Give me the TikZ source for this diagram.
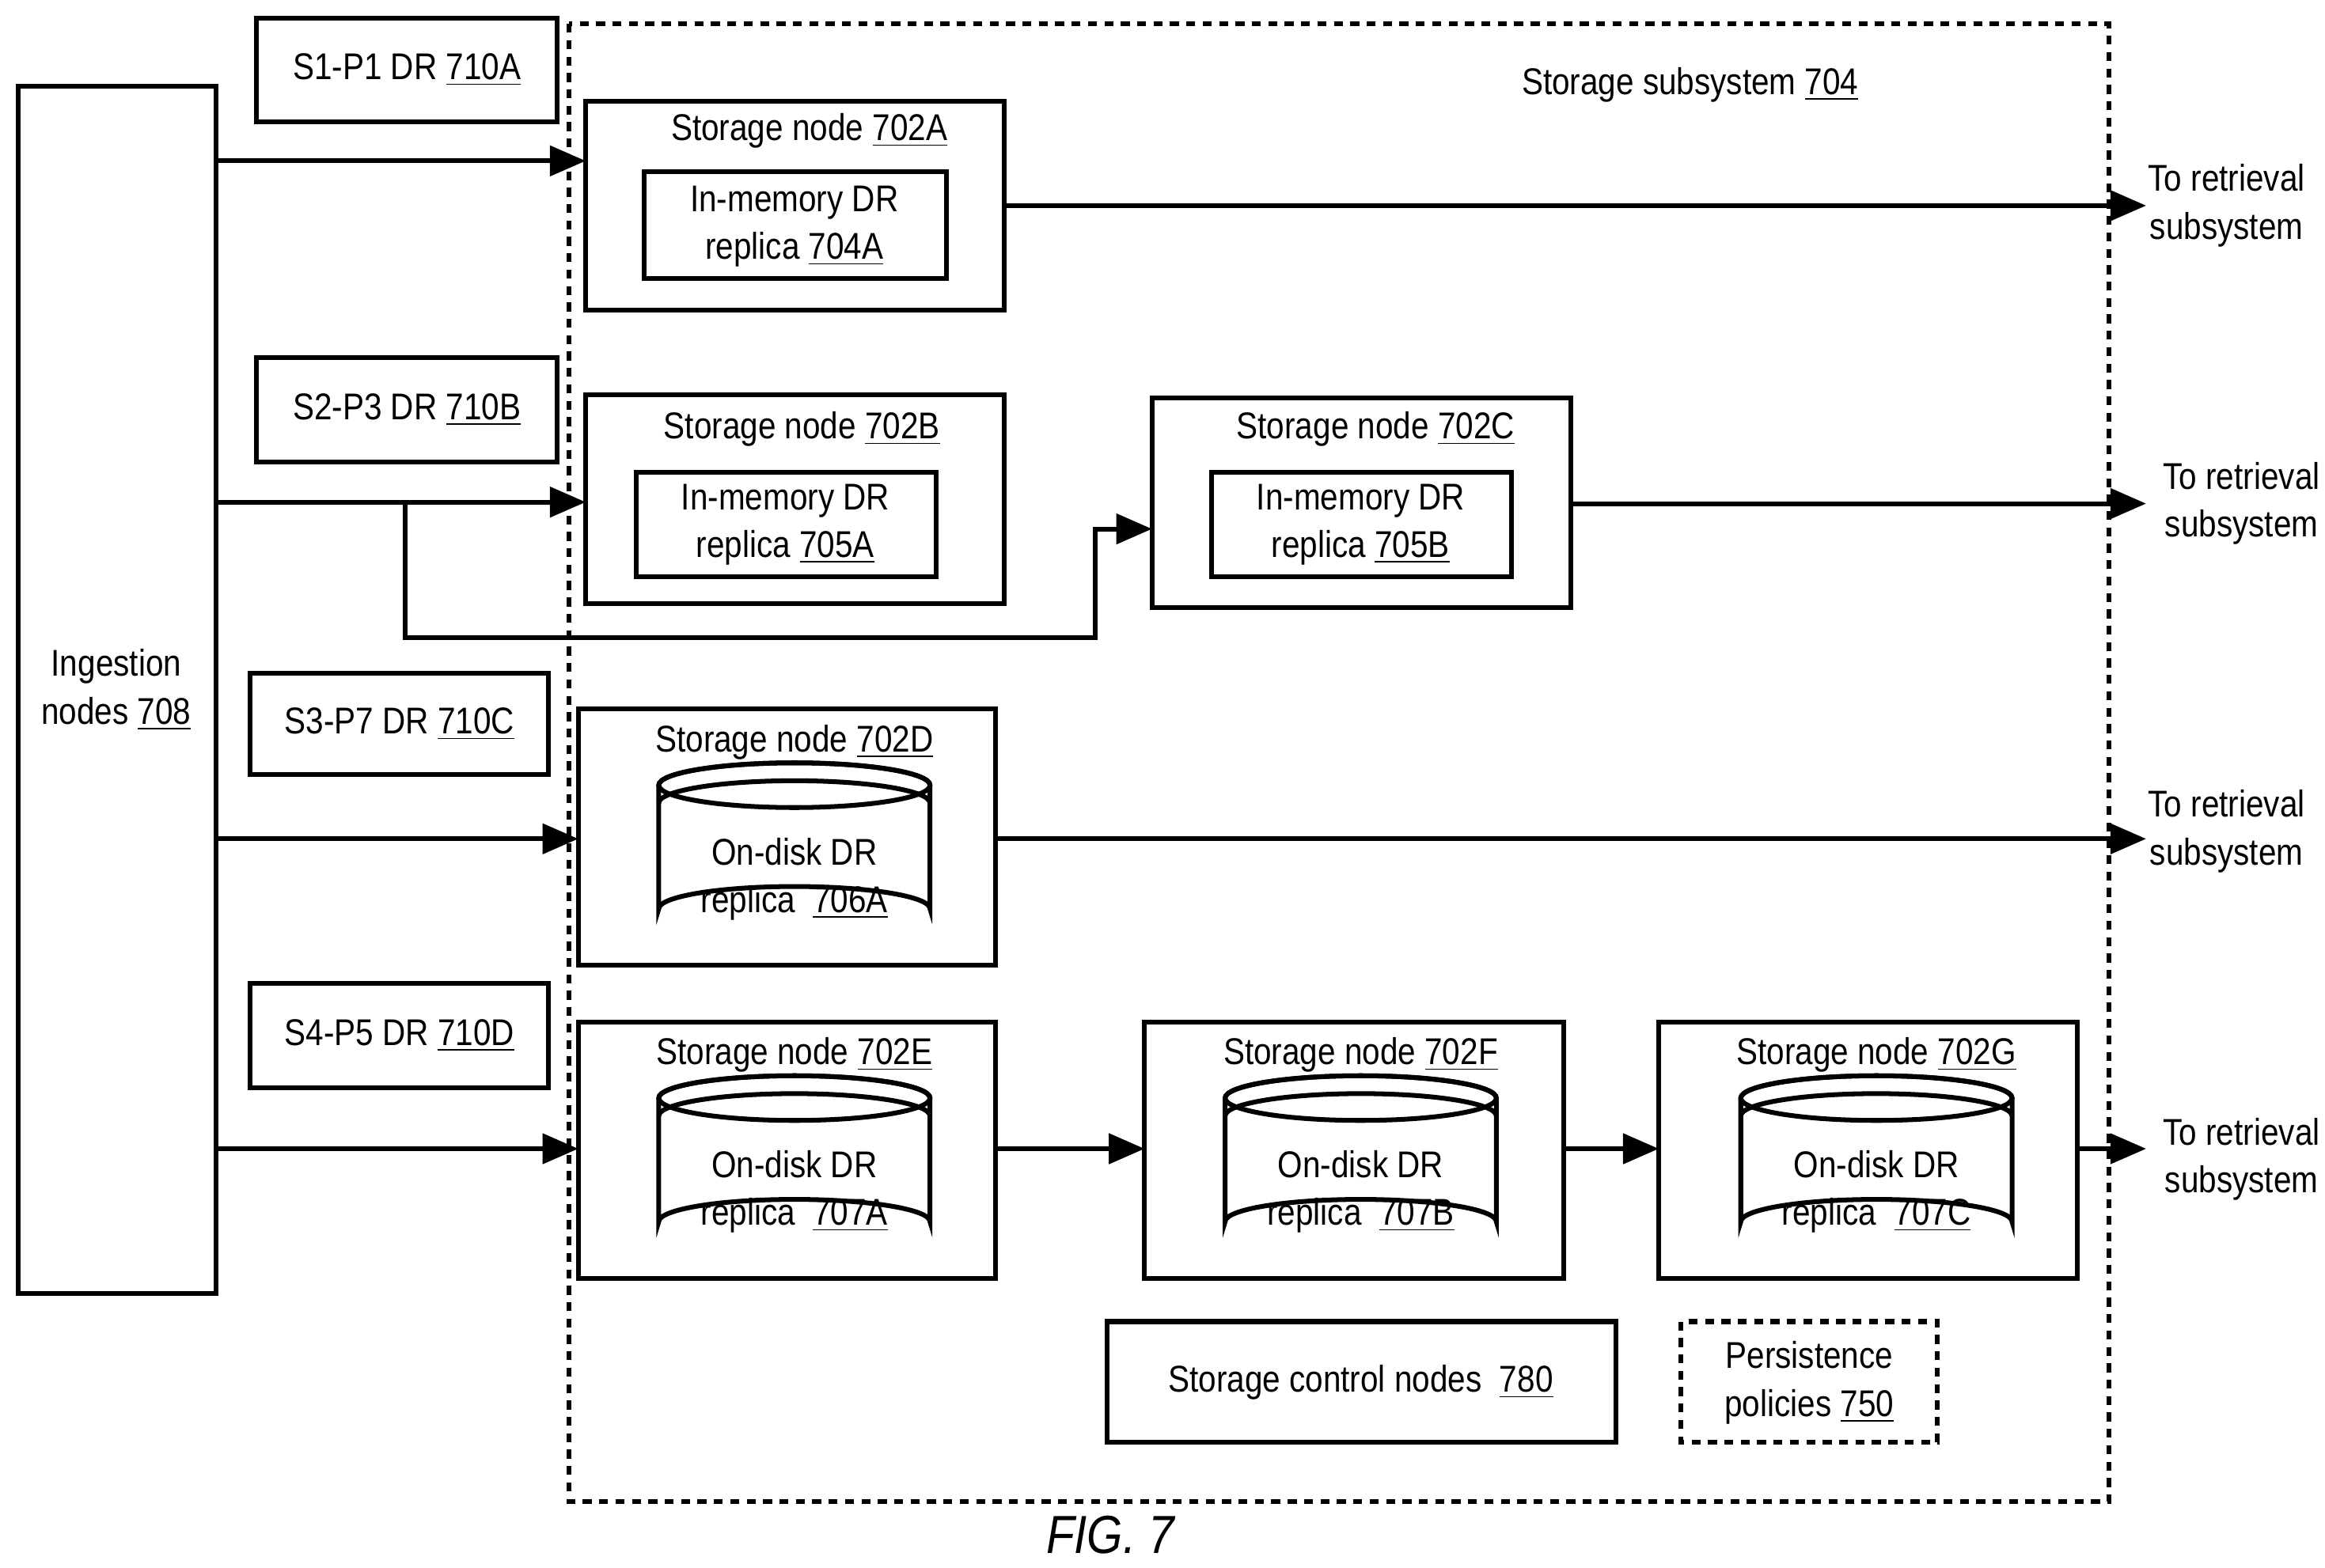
\documentclass[tikz,border=0pt]{standalone}
\usepackage{fontspec}
\setmainfont{Liberation Sans}[FakeStretch=0.86]
\usetikzlibrary{positioning,arrows.meta}
\newcommand\ul[1]{\underline{#1}}
% on-disk replica drum: centre x, top y, bottom y, name, text
\newcommand\drum[5]{%
  \draw[thick box] (#1-91,#2+15) -- (#1-91,#3-15) arc[start angle=180,end angle=360,x radius=91,y radius=15]
    -- (#1+91,#2+15) arc[start angle=0,end angle=-180,x radius=91,y radius=15] -- cycle;
  \draw[thick box] (#1,#2+15) ellipse[x radius=91,y radius=15];
  \draw[thick box] (#1-91,#2+27) arc[start angle=180,end angle=360,x radius=91,y radius=15];
  \node[lbl] (#4) at (#1,#3-35) {#5};}
\tikzset{
  thick box/.style={line width=1.6pt},
  box/.style={draw,line width=1.6pt},
  dashbox/.style={draw,line width=1.6pt,dash pattern=on 3pt off 2.5pt},
  lbl/.style={align=center,font=\fontsize{12.5}{16}\selectfont},
  feed/.style={line width=1.6pt,-{Triangle[length=12pt,width=10pt]}},
}
\begin{document}
\begin{tikzpicture}[x=0.5pt,y=-0.5pt]
\useasboundingbox (0,0) rectangle (1560,1052);

% outer boxes
\draw[box] (12,58) rectangle (145,868);
\node[lbl] (ingest) at (78,463) {Ingestion\\nodes \ul{708}};
\draw[dashbox] (382,16) rectangle (1415,1008);
\node[lbl] (subsys) at (1134,57) {Storage subsystem \ul{704}};

% DR labels
\draw[box] (172,12) rectangle (374,82);  \node[lbl] (dra) at (273,47) {S1-P1 DR \ul{710A}};
\draw[box] (172,240) rectangle (374,310); \node[lbl] (drb) at (273,275) {S2-P3 DR \ul{710B}};
\draw[box] (168,452) rectangle (368,520); \node[lbl] (drc) at (268,486) {S3-P7 DR \ul{710C}};
\draw[box] (168,660) rectangle (368,730); \node[lbl] (drd) at (268,695) {S4-P5 DR \ul{710D}};

% in-memory storage nodes
\draw[box] (393,68) rectangle (674,208);   \node[lbl] (na) at (543,88) {Storage node \ul{702A}};
\draw[box] (432,115) rectangle (635,187);  \node[lbl] (ra) at (533,152) {In-memory DR\\replica \ul{704A}};
\draw[box] (393,265) rectangle (674,405);   \node[lbl] (nb) at (538,288) {Storage node \ul{702B}};
\draw[box] (427,317) rectangle (628,387);  \node[lbl] (rb) at (527,352) {In-memory DR\\replica \ul{705A}};
\draw[box] (773,267) rectangle (1054,408); \node[lbl] (nc) at (923,288) {Storage node \ul{702C}};
\draw[box] (813,317) rectangle (1014,387); \node[lbl] (rc) at (913,352) {In-memory DR\\replica \ul{705B}};

% on-disk storage nodes
\draw[box] (388,476) rectangle (668,648);  \node[lbl] (nd) at (533,498) {Storage node \ul{702D}};
\drum{533}{512}{625}{rd}{On-disk DR\\replica \ \ul{706A}}
\draw[box] (388,686) rectangle (668,858);  \node[lbl] (ne) at (533,708) {Storage node \ul{702E}};
\drum{533}{722}{835}{re}{On-disk DR\\replica \ \ul{707A}}
\draw[box] (768,686) rectangle (1049,858); \node[lbl] (nf) at (913,708) {Storage node \ul{702F}};
\drum{913}{722}{835}{rf}{On-disk DR\\replica \ \ul{707B}}
\draw[box] (1113,686) rectangle (1394,858); \node[lbl] (ng) at (1259,708) {Storage node \ul{702G}};
\drum{1259}{722}{835}{rg}{On-disk DR\\replica \ \ul{707C}}

% control
\draw[box] (743,887) rectangle (1084,968);  \node[lbl] (ctl) at (913,928) {Storage control nodes \ \ul{780}};
\draw[dashbox] (1128,887) rectangle (1300,968); \node[lbl] (pol) at (1214,928) {Persistence\\policies \ul{750}};

% arrows in
\draw[feed] (145,108) -- (393,108);
\draw[feed] (145,337) -- (393,337);
\draw[feed] (272,337) -- (272,428) -- (735,428) -- (735,355) -- (773,355);
\draw[feed] (145,563) -- (388,563);
\draw[feed] (145,771) -- (388,771);
\draw[feed] (668,771) -- (768,771);
\draw[feed] (1049,771) -- (1113,771);

% arrows out
\draw[feed] (674,138) -- (1440,138);
\draw[feed] (1054,338) -- (1440,338);
\draw[feed] (668,563) -- (1440,563);
\draw[feed] (1394,771) -- (1440,771);
\node[lbl] (oa) at (1494,138) {To retrieval\\subsystem};
\node[lbl] (oc) at (1504,338) {To retrieval\\subsystem};
\node[lbl] (od) at (1494,558) {To retrieval\\subsystem};
\node[lbl] (og) at (1504,778) {To retrieval\\subsystem};

\node[font=\fontsize{18}{20}\selectfont\itshape] (fig) at (745,1030) {FIG. 7};
\end{tikzpicture}
\end{document}
